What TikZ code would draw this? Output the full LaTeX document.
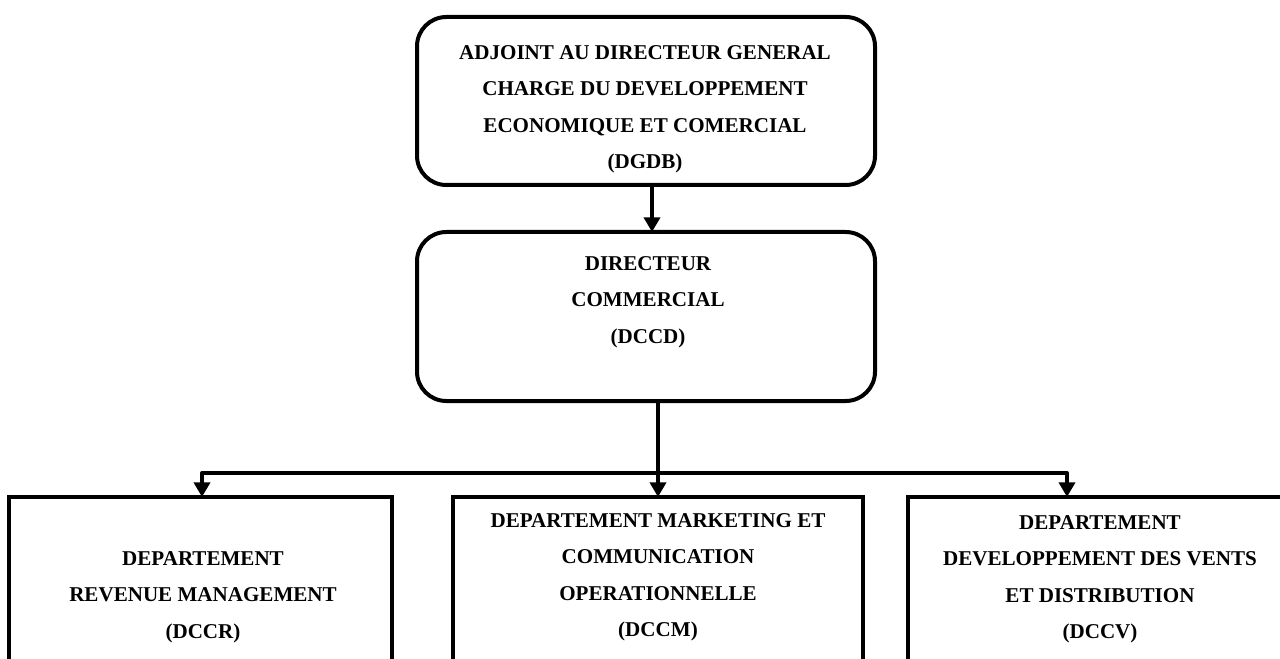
\documentclass[tikz,border=0pt]{standalone}
\usepackage{fontspec}
\setmainfont{Liberation Serif}
\usetikzlibrary{arrows.meta}
\begin{document}
\begin{tikzpicture}[x=0.75pt,y=-0.75pt,
  box/.style={draw,line width=3pt,inner sep=0pt,outer sep=0pt},
  rbox/.style={box,rounded corners=22pt},
  label/.style={font=\bfseries\fontsize{15.8}{27.4}\selectfont,align=center,inner sep=0pt},
  link/.style={line width=3pt,line join=round},
  arr/.style={link,-{Triangle[width=12pt,length=11pt]}}]
\useasboundingbox (0,0) rectangle (1280,659);
\clip (0,0) rectangle (1280,659);

% hierarchy boxes
\node[rbox,minimum width=458*0.75pt,minimum height=168*0.75pt,anchor=north west] (dgdb) at (417,17) {};
\node[rbox,minimum width=458*0.75pt,minimum height=169*0.75pt,anchor=north west] (dccd) at (417,232) {};
\node[box,minimum width=383*0.75pt,minimum height=240*0.75pt,anchor=north west] (dccr) at (9,497) {};
\node[box,minimum width=410*0.75pt,minimum height=240*0.75pt,anchor=north west] (dccm) at (453,497) {};
\node[box,minimum width=420*0.75pt,minimum height=240*0.75pt,anchor=north west] (dccv) at (908,497) {};

% box texts
\node[label,anchor=north] (t1) at (645,45) {ADJOINT AU DIRECTEUR GENERAL\\CHARGE DU DEVELOPPEMENT\\ECONOMIQUE ET COMERCIAL\\(DGDB)};
\node[label,anchor=north] (t2) at (648,256) {DIRECTEUR\\COMMERCIAL\\(DCCD)};
\node[label,anchor=north] (t3) at (203,551) {DEPARTEMENT\\REVENUE MANAGEMENT\\(DCCR)};
\node[label,anchor=north] (t4) at (658,513) {DEPARTEMENT MARKETING ET\\COMMUNICATION\\OPERATIONNELLE\\(DCCM)};
\node[label,anchor=north] (t5) at (1100,515) {DEPARTEMENT\\DEVELOPPEMENT DES VENTS\\ET DISTRIBUTION\\(DCCV)};

% connector positions
\coordinate (a) at (652,0);
\coordinate (c) at (658,473);
\coordinate (bl) at (202,473);
\coordinate (br) at (1067,473);

\draw[arr] (dgdb.south -| a) -- (dccd.north -| a);
\draw[link] (dccd.south -| c) -- (c);
\draw[arr] (c) -- (dccm.north -| c);
\draw[arr] (c) -- (bl) -- (dccr.north -| bl);
\draw[arr] (c) -- (br) -- (dccv.north -| br);
\end{tikzpicture}
\end{document}
